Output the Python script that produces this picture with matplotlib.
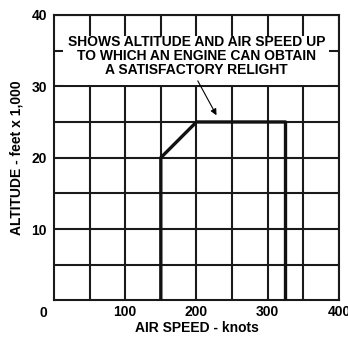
import matplotlib
matplotlib.use("Agg")
import matplotlib.pyplot as plt
from matplotlib.patches import Rectangle

# relight envelope (knots, feet x 1000)
speed = [150, 150, 200, 325, 325]
altitude = [0, 20, 25, 25, 0]

x_ticks = [100, 200, 300, 400]
y_ticks = [10, 20, 30, 40]
note = "SHOWS ALTITUDE AND AIR SPEED UP\nTO WHICH AN ENGINE CAN OBTAIN\nA SATISFACTORY RELIGHT"

plt.rcParams['font.family'] = ['Liberation Sans', 'DejaVu Sans']
plt.rcParams['font.weight'] = 'bold'

fig = plt.figure(figsize=(3.48, 3.38), dpi=100)
ax = fig.add_axes([0.155, 0.111, 0.819, 0.845])

ax.set_xlim(0, 400)
ax.set_ylim(0, 40)
ax.set_xticks(x_ticks)
ax.set_yticks(y_ticks)
ax.set_xticks(range(50, 400, 50), minor=True)
ax.set_yticks(range(5, 40, 5), minor=True)
ax.grid(which='both', color='#1a1a1a', linewidth=1.5, zorder=1)
ax.set_axisbelow(True)
ax.tick_params(which='both', length=0, labelsize=10)
ax.tick_params(axis='x', pad=3)
ax.tick_params(axis='y', pad=5)
for lab in ax.get_xticklabels() + ax.get_yticklabels():
    lab.set_fontweight('bold')
for s in ax.spines.values():
    s.set_linewidth(1.5)
    s.set_color('#1a1a1a')

# white box hiding the grid behind the note
ax.add_patch(Rectangle((13, 30.15), 373, 6.9, facecolor='white', edgecolor='none', zorder=2))

ax.plot(speed, altitude, color='#111111', linewidth=2.4, zorder=3)

ax.text(200, 34.2, note, ha='center', va='center', fontsize=10, fontweight='bold',
        linespacing=1.0, zorder=4)
ax.annotate('', xy=(230, 25.6), xytext=(200, 31.1),
            arrowprops=dict(arrowstyle='-|>', color='black', lw=0.8, mutation_scale=9), zorder=4)

ax.text(-15, -1.7, '0', ha='center', va='center', fontsize=10, fontweight='bold')

ax.set_xlabel('AIR SPEED - knots', fontsize=10, fontweight='bold', labelpad=2)
ax.set_ylabel('ALTITUDE - feet x 1,000', fontsize=10, fontweight='bold', labelpad=6)

fig.savefig('out.png', dpi=100)
